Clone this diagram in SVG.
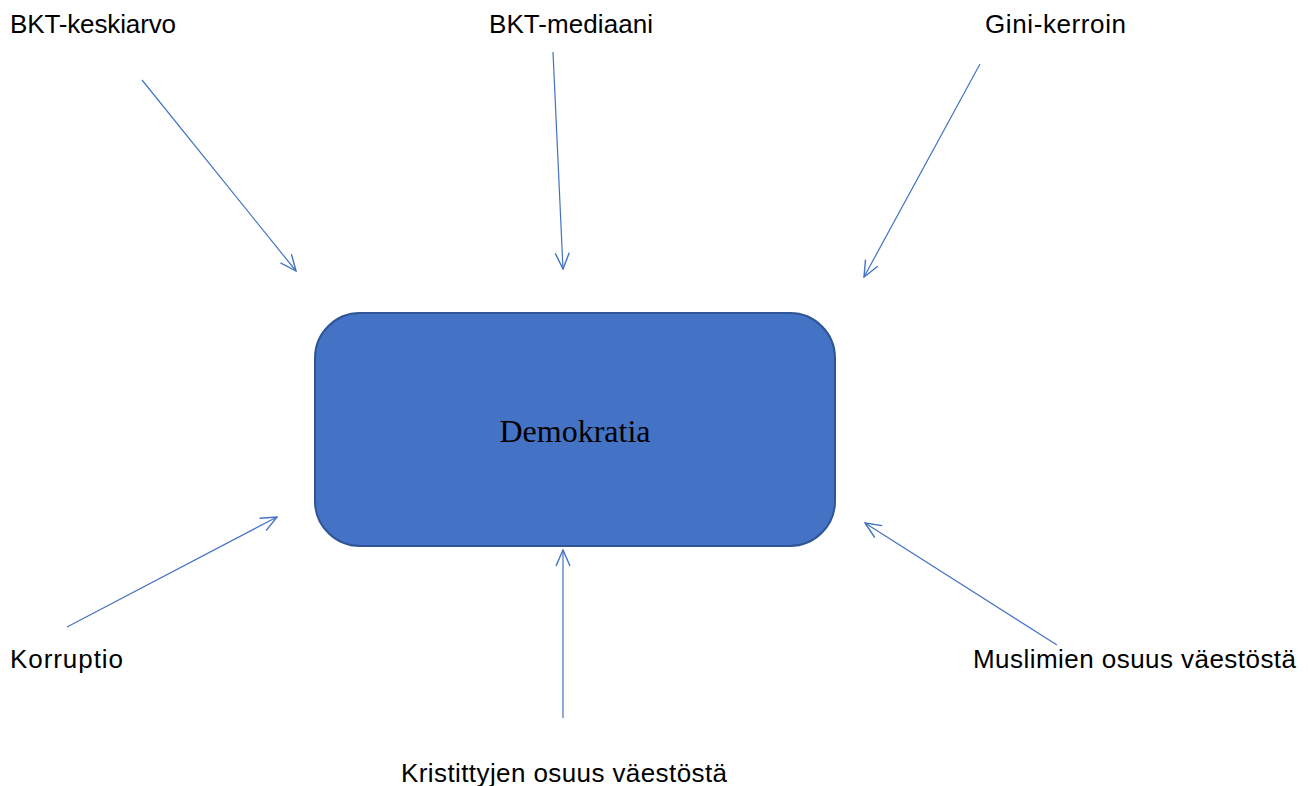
<svg xmlns="http://www.w3.org/2000/svg" width="1308" height="786" viewBox="0 0 1308 786">
<style>
.lbl{font-family:"Liberation Sans",Arial,sans-serif;font-size:26px;fill:#000}
.conn{stroke:#4472C4;stroke-width:1.2;fill:none}
</style>
<defs>
<marker id="arr" viewBox="0 0 18 16" refX="17" refY="8" markerWidth="18" markerHeight="16" markerUnits="userSpaceOnUse" orient="auto">
<path d="M1,1 L17,8 L1,15" fill="none" stroke="#4472C4" stroke-width="1.4"/>
</marker>
</defs>
<rect width="1308" height="786" fill="#fff"/>
<g id="connectors">
<line class="conn" x1="142" y1="80" x2="296" y2="271" marker-end="url(#arr)"/>
<line class="conn" x1="553" y1="52" x2="563" y2="269" marker-end="url(#arr)"/>
<line class="conn" x1="980" y1="64" x2="864" y2="277" marker-end="url(#arr)"/>
<line class="conn" x1="67" y1="627" x2="277" y2="517" marker-end="url(#arr)"/>
<line class="conn" x1="563" y1="718" x2="563" y2="550" marker-end="url(#arr)"/>
<line class="conn" x1="1057" y1="645" x2="865" y2="523" marker-end="url(#arr)"/>
</g>
<g id="demokratia">
<rect x="315" y="313" width="520" height="233" rx="45" ry="45" fill="#4472C4" stroke="#2F5597" stroke-width="2"/>
<text x="575" y="442" text-anchor="middle" font-family="'Liberation Serif','Times New Roman',serif" font-size="32" fill="#000">Demokratia</text>
</g>
<g id="bkt-keskiarvo"><text class="lbl" x="10" y="33" textLength="166">BKT-keskiarvo</text></g>
<g id="bkt-mediaani"><text class="lbl" x="489" y="33" textLength="164">BKT-mediaani</text></g>
<g id="gini-kerroin"><text class="lbl" x="985" y="33" textLength="141">Gini-kerroin</text></g>
<g id="korruptio"><text class="lbl" x="10" y="668" textLength="113">Korruptio</text></g>
<g id="muslimien"><text class="lbl" x="973" y="668" textLength="323">Muslimien osuus väestöstä</text></g>
<g id="kristittyjen"><text class="lbl" x="401" y="782" textLength="326">Kristittyjen osuus väestöstä</text></g>
</svg>
